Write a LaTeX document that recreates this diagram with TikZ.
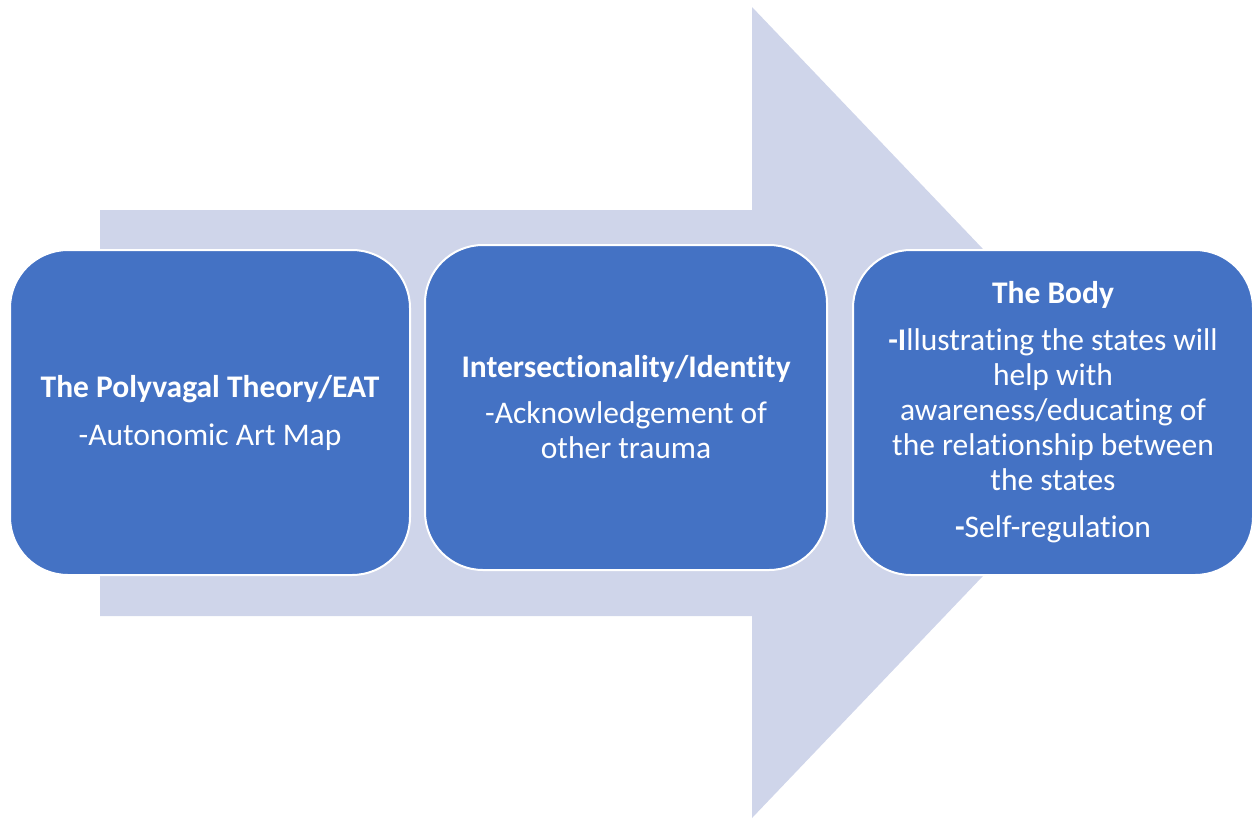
\documentclass[tikz,border=0pt]{standalone}
\usepackage{fontspec}
\setmainfont{Carlito}[Ligatures=NoCommon]
\definecolor{boxblue}{HTML}{4472C4}
\definecolor{arrowfill}{HTML}{CFD5EA}
\begin{document}
\begin{tikzpicture}[x=1pt,y=-1pt,
  stagebox/.style={draw=white, line width=2pt, fill=boxblue, rounded corners=58pt,
    minimum width=400pt, minimum height=325pt, text=white, align=center,
    inner sep=0pt, font=\fontsize{31.5}{35}\selectfont}]
\useasboundingbox (0,0) rectangle (1252,819);
\fill[arrowfill] (100,210) -- (752,210) -- (752,7) -- (1139,412.5) -- (752,818) -- (752,616) -- (100,616) -- cycle;
\node[stagebox] (b1) at (210,412.5) {\textbf{The Polyvagal Theory/EAT}\\[13pt]-Autonomic Art Map};
\node[stagebox, minimum width=402pt] (b2) at (626,407.5) {\textbf{Intersectionality/Identity}\\[11pt]-Acknowledgement of\\other trauma};
\node[stagebox] (b3) at (1053,412.5) {\textbf{The Body}\\[12pt]\textbf{-I}llustrating the states will\\help with\\awareness/educating of\\the relationship between\\the states\\[12pt]\textbf{-}Self-regulation};
\end{tikzpicture}
\end{document}
